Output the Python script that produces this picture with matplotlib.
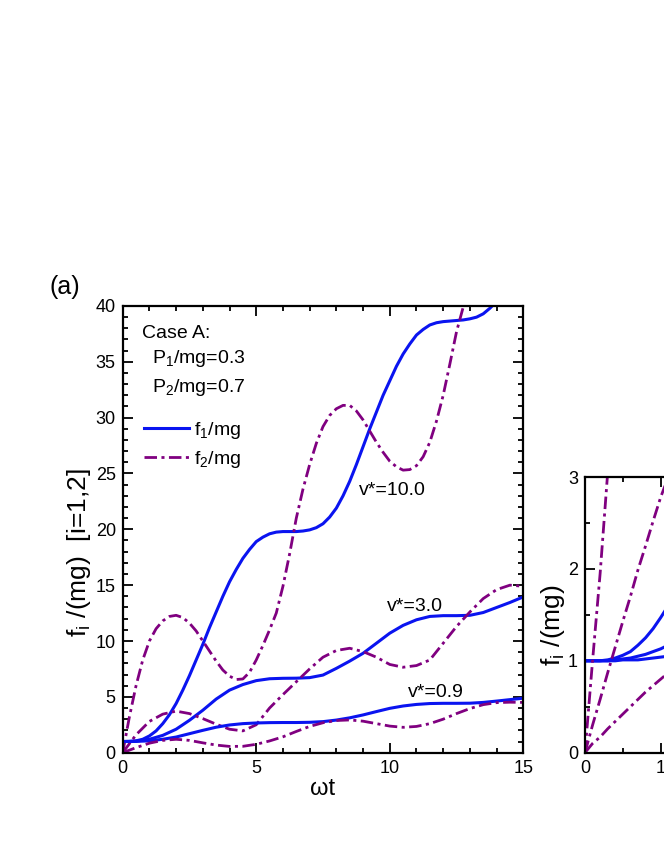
import numpy as np
import matplotlib
matplotlib.use("Agg")
import matplotlib.pyplot as plt
from matplotlib.ticker import MultipleLocator

plt.rcParams["font.family"] = ["Liberation Sans", "DejaVu Sans"]
plt.rcParams["mathtext.default"] = "regular"

BLUE = "#0a14f0"
PURPLE = "#800080"

# time grids of the main panel (omega t)
wt_fine = np.arange(0, 15.01, 0.25)
wt = np.arange(0, 15.01, 0.5)

# v* = 10.0 (read every 0.25)
f1_v10 = [1.0, 1.0, 1.06, 1.2, 1.5, 1.95, 2.6, 3.4, 4.4, 5.6, 6.9, 8.3, 9.7, 11.2,
          12.6, 14.0, 15.3, 16.4, 17.4, 18.2, 18.9, 19.3, 19.6, 19.75, 19.8, 19.8,
          19.8, 19.85, 19.95, 20.15, 20.5, 21.1, 21.9, 23.0, 24.3, 25.8, 27.4, 29.0,
          30.5, 32.0, 33.3, 34.6, 35.7, 36.6, 37.4, 37.9, 38.3, 38.5, 38.6, 38.65,
          38.7, 38.75, 38.85, 39.0, 39.3, 39.8, 40.4]
f2_v10 = [0.0, 3.2, 6.0, 8.3, 10.0, 11.1, 11.8, 12.2, 12.3, 12.1, 11.6, 10.9, 10.0,
          9.1, 8.2, 7.4, 6.85, 6.55, 6.6, 7.2, 8.3, 9.6, 11.0, 12.5, 14.9, 17.8, 21.0,
          23.6, 25.8, 27.7, 29.2, 30.2, 30.8, 31.1, 31.1, 30.6, 29.8, 28.8, 27.8, 26.9,
          26.1, 25.6, 25.3, 25.35, 25.7, 26.5, 27.8, 29.7, 32.0, 34.8, 37.7, 39.9, 42.0]
# v* = 3.0 (read every 0.5)
f1_v3 = [1.0, 1.03, 1.2, 1.55, 2.1, 2.9, 3.8, 4.8, 5.6, 6.1, 6.45, 6.62, 6.66, 6.67,
         6.72, 6.95, 7.55, 8.2, 8.9, 9.8, 10.7, 11.4, 11.9, 12.2, 12.27, 12.27, 12.3,
         12.55, 13.0, 13.45, 13.95]
f2_v3 = [0.0, 1.6, 2.8, 3.45, 3.72, 3.5, 3.05, 2.55, 2.1, 1.95, 2.5, 4.0, 5.2, 6.35,
         7.5, 8.55, 9.15, 9.35, 9.05, 8.55, 7.9, 7.65, 7.8, 8.3, 9.8, 11.3, 12.6, 13.8,
         14.6, 15.0, 14.9]
# v* = 0.9 (read every 0.5)
f1_v09 = [1.0, 1.01, 1.06, 1.2, 1.4, 1.7, 2.0, 2.28, 2.48, 2.6, 2.66, 2.69, 2.7, 2.7,
          2.72, 2.78, 2.92, 3.12, 3.38, 3.68, 3.97, 4.18, 4.32, 4.4, 4.42, 4.42, 4.43,
          4.5, 4.62, 4.75, 4.88]
f2_v09 = [0.0, 0.45, 0.85, 1.1, 1.2, 1.1, 0.88, 0.68, 0.56, 0.57, 0.75, 1.05, 1.42, 1.9,
          2.35, 2.68, 2.88, 2.93, 2.82, 2.6, 2.38, 2.27, 2.35, 2.6, 3.0, 3.5, 3.95, 4.3,
          4.48, 4.52, 4.5]

# early-time detail (right panel)
wt_z = [0.0, 0.1, 0.2, 0.3, 0.4, 0.5, 0.6, 0.7, 0.8, 0.9, 1.0, 1.1]
f1_v10_z = [1.0, 1.0, 1.0, 1.01, 1.03, 1.06, 1.1, 1.17, 1.25, 1.35, 1.47, 1.6]
f1_v3_z = [1.0, 1.0, 1.0, 1.0, 1.01, 1.02, 1.03, 1.05, 1.07, 1.1, 1.13, 1.17]
f1_v09_z = [1.0, 1.0, 1.0, 1.0, 1.0, 1.01, 1.01, 1.01, 1.02, 1.03, 1.04, 1.05]
f2_v10_z = [0.0, 1.0, 1.95, 3.05]
f2_v3_z = [0.0, 0.3, 0.58, 0.87, 1.15, 1.43, 1.7, 1.99, 2.25, 2.52, 2.78, 3.0]
f2_v09_z = [0.0, 0.1, 0.17, 0.26, 0.34, 0.42, 0.5, 0.58, 0.66, 0.73, 0.8, 0.87]

v_labels = ["v*=10.0", "v*=3.0", "v*=0.9"]


def style_axis(ax):
    for s in ax.spines.values():
        s.set_linewidth(1.6)
    ax.tick_params(which="both", direction="in", top=True, right=True,
                   labelsize=13, width=1.3, pad=5)
    ax.tick_params(which="major", length=7)
    ax.tick_params(which="minor", length=3.5)


def main():
    fig = plt.figure(figsize=(6.64, 8.6), dpi=100)
    ax = fig.add_axes([0.1848, 0.1248, 0.6033, 0.5194])
    dd = dict(color=PURPLE, lw=2.0, dashes=(4.5, 1.6, 1.1, 1.6))
    ln = dict(color=BLUE, lw=2.2)

    ax.plot(wt_fine[:len(f1_v10)], f1_v10, label="f$_1$/mg", **ln)
    ax.plot(wt_fine[:len(f2_v10)], f2_v10, label="f$_2$/mg", **dd)
    ax.plot(wt, f1_v3, **ln)
    ax.plot(wt, f2_v3, **dd)
    ax.plot(wt, f1_v09, **ln)
    ax.plot(wt, f2_v09, **dd)

    ax.set_xlim(0, 15)
    ax.set_ylim(0, 40)
    ax.xaxis.set_major_locator(MultipleLocator(5))
    ax.xaxis.set_minor_locator(MultipleLocator(1))
    ax.yaxis.set_major_locator(MultipleLocator(5))
    ax.yaxis.set_minor_locator(MultipleLocator(1))
    style_axis(ax)
    ax.set_xlabel("ωt", fontsize=17, labelpad=1)
    ax.set_ylabel("f$_i$ /(mg)  [i=1,2]", fontsize=19)
    ax.yaxis.set_label_coords(-0.075, 0.447)

    ax.text(0.047, 0.928, "Case A:", transform=ax.transAxes, fontsize=14)
    ax.text(0.072, 0.873, "P$_1$/mg=0.3", transform=ax.transAxes, fontsize=14)
    ax.text(0.072, 0.808, "P$_2$/mg=0.7", transform=ax.transAxes, fontsize=14)
    ax.legend(loc="upper left", bbox_to_anchor=(0.053, 0.745), frameon=False,
              fontsize=14, handlelength=2.3, handletextpad=0.3,
              labelspacing=0.42, borderpad=0, borderaxespad=0)

    ax.text(8.85, 23.07, v_labels[0], fontsize=14)
    ax.text(9.89, 12.7, v_labels[1], fontsize=14)
    ax.text(10.69, 4.96, v_labels[2], fontsize=14)

    fig.text(0.0753, 0.666, "(a)", fontsize=18, va="center")

    # right panel: early times
    axz = fig.add_axes([0.881, 0.1248, 0.342, 0.3205])
    axz.plot(wt_z, f1_v10_z, **ln)
    axz.plot(wt_z, f1_v3_z, **ln)
    axz.plot(wt_z, f1_v09_z, **ln)
    axz.plot(wt_z[:len(f2_v10_z)], f2_v10_z, **dd)
    axz.plot(wt_z, f2_v3_z, **dd)
    axz.plot(wt_z, f2_v09_z, **dd)
    axz.set_xlim(0, 3)
    axz.set_ylim(0, 3)
    axz.xaxis.set_major_locator(MultipleLocator(1))
    axz.xaxis.set_minor_locator(MultipleLocator(0.5))
    axz.yaxis.set_major_locator(MultipleLocator(1))
    axz.yaxis.set_minor_locator(MultipleLocator(0.5))
    style_axis(axz)
    axz.set_ylabel("f$_i$ /(mg)", fontsize=19)
    axz.yaxis.set_label_coords(-0.08, 0.464)

    fig.savefig("out.png", dpi=100)


if __name__ == "__main__":
    main()
